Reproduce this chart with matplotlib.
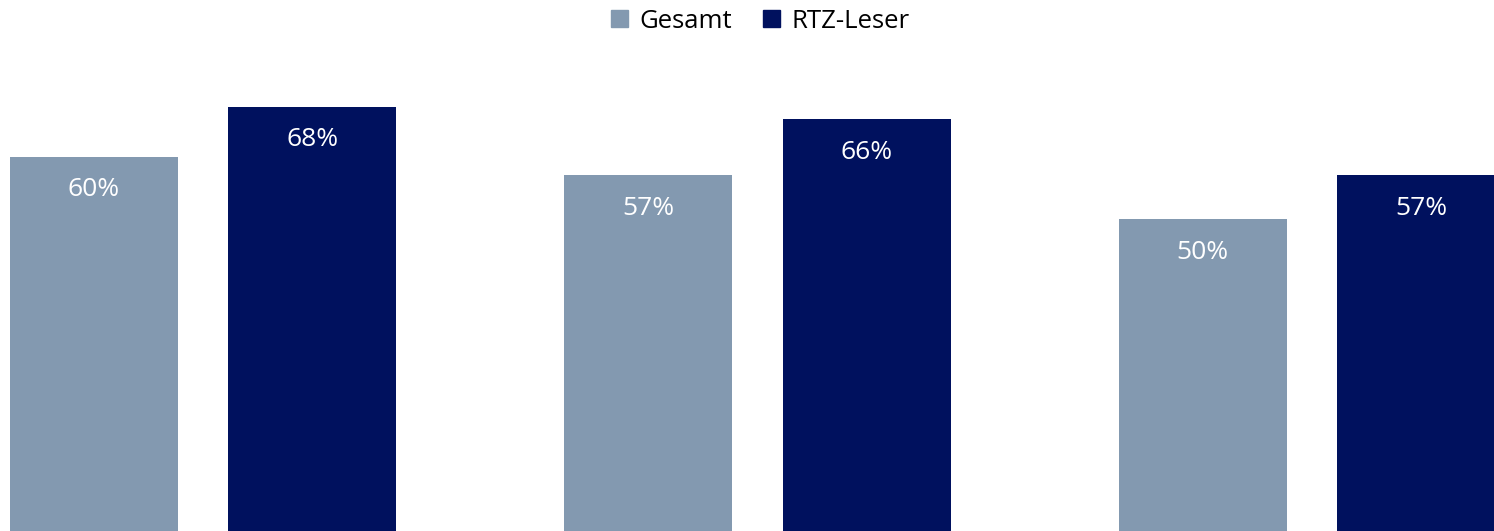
import numpy as np
import matplotlib.pyplot as plt
from matplotlib.patches import Patch

plt.rcParams['font.family'] = ['Open Sans', 'DejaVu Sans']

groups = ["A", "B", "C"]
series = ["Gesamt", "RTZ-Leser"]
gesamt = [60, 57, 50]
rtz = [68, 66, 57]
colors = ["#8399B0", "#00115E"]

fig = plt.figure(figsize=(14.94, 5.31), dpi=100)
ax = fig.add_axes([0, 0, 1, 1])

x = np.arange(len(groups))
w = 0.303
off = 0.197
for vals, dx, c in [(gesamt, -off, colors[0]), (rtz, off, colors[1])]:
    bars = ax.bar(x + dx, vals, width=w, color=c)
    for b, v in zip(bars, vals):
        ax.text(b.get_x() + b.get_width() / 2, v - 5.3, f"{v}%",
                ha="center", va="center", color="white", fontsize=19)

ax.set_xlim(-0.366, 2.328)
ax.set_ylim(0, 85.1)
ax.axis("off")

handles = [Patch(color=c, label=s) for c, s in zip(colors, series)]
fig.legend(handles=handles, loc="center", bbox_to_anchor=(0.509, 0.96), ncol=2,
           frameon=False, fontsize=18.5, handlelength=0.65, handleheight=0.65,
           handletextpad=0.45, columnspacing=1.2)

fig.savefig("out.png", dpi=100)
